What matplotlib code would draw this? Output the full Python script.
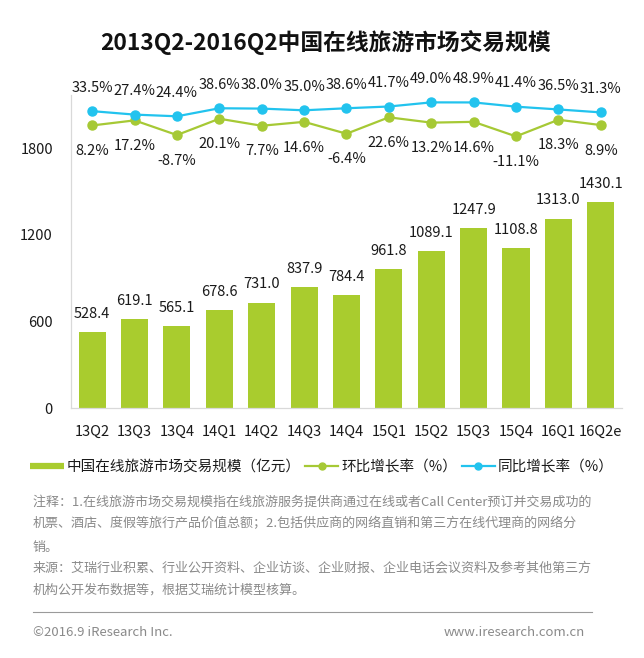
import matplotlib
matplotlib.use('Agg')
import matplotlib.pyplot as plt
from matplotlib.lines import Line2D

plt.rcParams['font.family'] = ['Noto Sans CJK SC', 'DejaVu Sans']

quarters = ['13Q2', '13Q3', '13Q4', '14Q1', '14Q2', '14Q3', '14Q4',
            '15Q1', '15Q2', '15Q3', '15Q4', '16Q1', '16Q2e']
scale = [528.4, 619.1, 565.1, 678.6, 731.0, 837.9, 784.4,
         961.8, 1089.1, 1247.9, 1108.8, 1313.0, 1430.1]
qoq = [8.2, 17.2, -8.7, 20.1, 7.7, 14.6, -6.4, 22.6, 13.2, 14.6, -11.1, 18.3, 8.9]
yoy = [33.5, 27.4, 24.4, 38.6, 38.0, 35.0, 38.6, 41.7, 49.0, 48.9, 41.4, 36.5, 31.3]
yticks = [0, 600, 1200, 1800]

bar_color = '#A9CC2E'
green = '#A6C935'
blue = '#22C3EE'
text_color = '#1a1a1a'
note_color = '#8a8a8a'

fig = plt.figure(figsize=(6.44, 6.58), dpi=100)
ax = fig.add_axes([0.1102, 0.3799, 0.8556, 0.4757])

x = list(range(len(quarters)))
ax.bar(x, scale, width=0.64, color=bar_color, zorder=2)
for xi, v in zip(x, scale):
    ax.annotate(f'{v:.1f}', (xi, v), xytext=(0, 13), textcoords='offset points',
                ha='center', va='center', fontsize=10.5, color=text_color)

ax.set_xlim(-0.5, len(quarters) - 0.5)
ax.set_ylim(0, 2169)
ax.set_xticks(x)
ax.set_xticklabels(quarters)
ax.set_yticks(yticks)
ax.tick_params(axis='both', length=0, labelsize=10.5, labelcolor=text_color)
ax.tick_params(axis='x', pad=12)
ax.tick_params(axis='y', pad=13)
for s in ['top', 'right']:
    ax.spines[s].set_visible(False)
for s in ['left', 'bottom']:
    ax.spines[s].set_color('#d9d9d9')
    ax.spines[s].set_linewidth(0.9)

ax2 = ax.twinx()
ax2.set_ylim(-491, 62)
ax2.axis('off')
ax2.plot(x, qoq, color=green, lw=1.6, marker='o', ms=6.5, zorder=3)
ax2.plot(x, yoy, color=blue, lw=1.6, marker='o', ms=6.5, zorder=3)
for xi, v in zip(x, yoy):
    ax2.annotate(f'{v:.1f}%', (xi, v), xytext=(0, 17), textcoords='offset points',
                 ha='center', va='center', fontsize=10.5, color=text_color)
for xi, v in zip(x, qoq):
    ax2.annotate(f'{v:.1f}%', (xi, v), xytext=(0, -18.5), textcoords='offset points',
                 ha='center', va='center', fontsize=10.5, color=text_color)

fig.text(0.505, 1 - 42 / 658, '2013Q2-2016Q2中国在线旅游市场交易规模',
         ha='center', va='center', fontsize=16.4, fontweight='bold', color='#111111')

handles = [
    Line2D([], [], color=bar_color, lw=4.5, solid_capstyle='butt'),
    Line2D([], [], color=green, lw=1.6, marker='o', ms=5),
    Line2D([], [], color=blue, lw=1.6, marker='o', ms=5),
]
labels = ['中国在线旅游市场交易规模（亿元）', '环比增长率（%）', '同比增长率（%）']
fig.legend(handles, labels, loc='center', bbox_to_anchor=(0.5, 1 - 467 / 658),
           ncol=3, frameon=False, fontsize=10.5, handlelength=2.3,
           handletextpad=0.2, columnspacing=0.3, labelcolor=text_color)

notes = [
    (502, '注释：1.在线旅游市场交易规模指在线旅游服务提供商通过在线或者Call Center预订并交易成功的'),
    (524, '机票、酒店、度假等旅行产品价值总额；2.包括供应商的网络直销和第三方在线代理商的网络分'),
    (547, '销。'),
    (568, '来源：艾瑞行业积累、行业公开资料、企业访谈、企业财报、企业电话会议资料及参考其他第三方'),
    (590, '机构公开发布数据等，根据艾瑞统计模型核算。'),
]
for ypx, t in notes:
    fig.text(33 / 644, 1 - ypx / 658, t, ha='left', va='center',
             fontsize=9.4, color=note_color)

fig.add_artist(Line2D([33 / 644, 592 / 644], [1 - 612 / 658, 1 - 612 / 658],
                      transform=fig.transFigure, color='#9a9a9a', lw=0.8))
fig.text(33 / 644, 1 - 633 / 658, '©2016.9 iResearch Inc.', ha='left', va='center',
         fontsize=9.5, color=note_color)
fig.text(585 / 644, 1 - 633 / 658, 'www.iresearch.com.cn', ha='right', va='center',
         fontsize=9.5, color=note_color)

fig.savefig('out.png', dpi=100)
